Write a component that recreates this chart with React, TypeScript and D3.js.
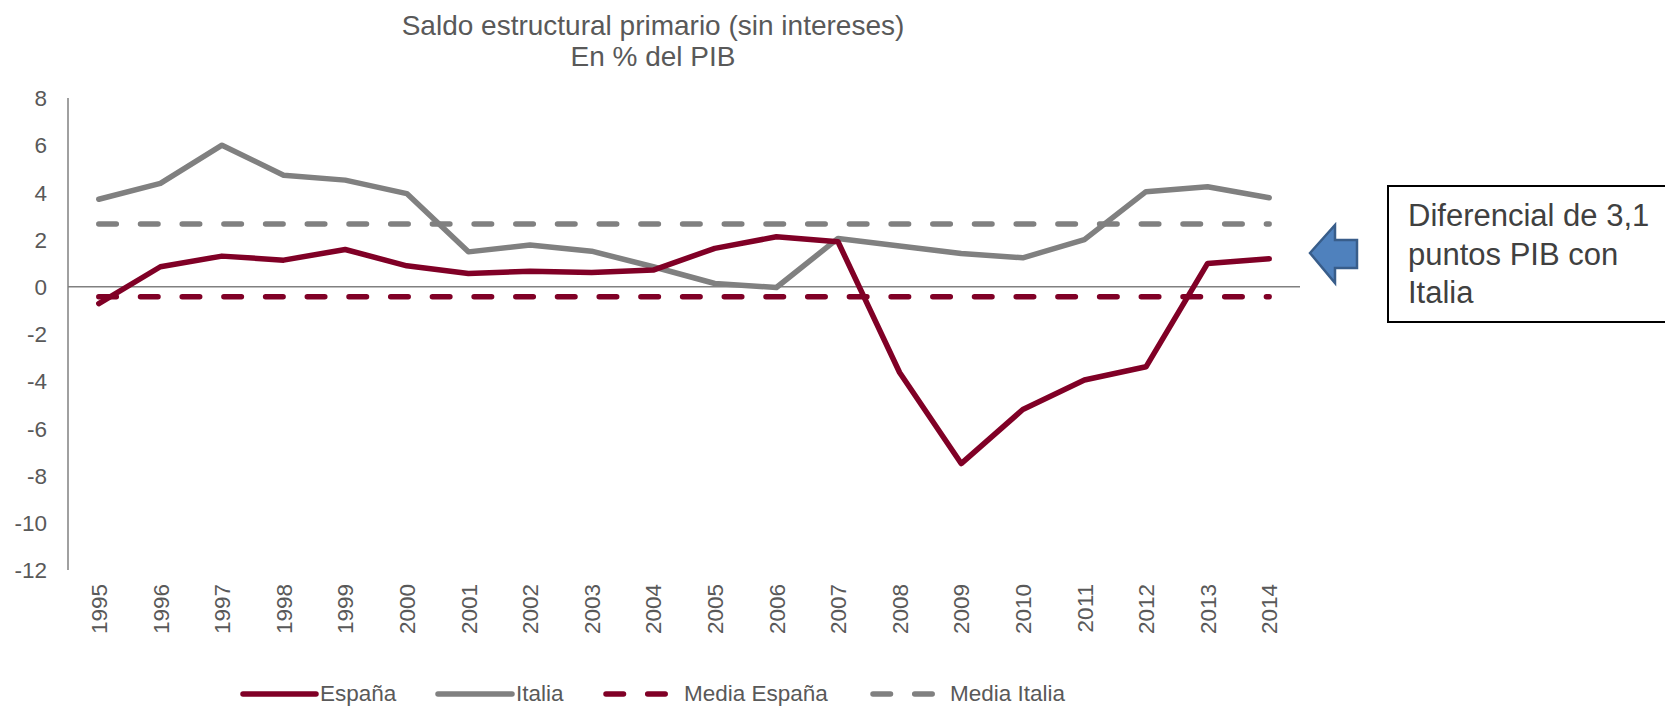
import React from "react";
import * as d3 from "d3";

const years = ["1995","1996","1997","1998","1999","2000","2001","2002","2003","2004","2005","2006","2007","2008","2009","2010","2011","2012","2013","2014"];
const espana = [-0.71,0.85,1.3,1.13,1.58,0.89,0.56,0.66,0.61,0.71,1.63,2.12,1.91,-3.63,-7.49,-5.2,-3.95,-3.39,0.99,1.19];
const italia = [3.71,4.38,6.0,4.73,4.52,3.95,1.48,1.77,1.51,0.85,0.14,-0.03,2.05,1.73,1.41,1.23,2.0,4.03,4.24,3.77];
const mediaEspana = [-0.42,-0.42,-0.42,-0.42,-0.42,-0.42,-0.42,-0.42,-0.42,-0.42,-0.42,-0.42,-0.42,-0.42,-0.42,-0.42,-0.42,-0.42,-0.42,-0.42];
const mediaItalia = [2.66,2.66,2.66,2.66,2.66,2.66,2.66,2.66,2.66,2.66,2.66,2.66,2.66,2.66,2.66,2.66,2.66,2.66,2.66,2.66];
const yTicks = [8,6,4,2,0,-2,-4,-6,-8,-10,-12];
const titleLines = ["Saldo estructural primario (sin intereses)", "En % del PIB"];
const noteLines = ["Diferencial de 3,1", "puntos PIB con", "Italia"];
const legendItems = [
  { label: "España", color: "#800026", dashed: false, x0: 243, x1: 316, tx: 320 },
  { label: "Italia", color: "#808080", dashed: false, x0: 438, x1: 512, tx: 516 },
  { label: "Media España", color: "#800026", dashed: true, x0: 606, x1: 666, tx: 684 },
  { label: "Media Italia", color: "#808080", dashed: true, x0: 873, x1: 933, tx: 950 },
];

const RED = "#800026";
const GRAY = "#808080";
const FONT = "'Liberation Sans', Arial, sans-serif";
const SW = 5.5;
const DASH = "17.5 24.2";

export default function App() {
  const x = d3.scaleBand<string>().domain(years).range([68, 1300]).padding(0);
  const cx = (i: number) => (x(years[i]) as number) + x.bandwidth() / 2;
  const y = d3.scaleLinear().domain([-12, 8]).range([570, 98]);
  const line = d3.line<number>().x((_, i) => cx(i)).y((d) => y(d));

  return (
    <svg width={1665} height={707} style={{ position: "absolute", left: 0, top: 0, background: "#fff" }} fontFamily={FONT}>
      <rect x={0} y={0} width={1665} height={707} fill="#fff" />
      {titleLines.map((t, i) => (
        <text key={t} x={653} y={35 + i * 31} textAnchor="middle" fontSize={28} fill="#595959">{t}</text>
      ))}
      {/* axes */}
      <line x1={68} x2={68} y1={98} y2={570} stroke={GRAY} strokeWidth={1.5} />
      <line x1={68} x2={1300} y1={y(0)} y2={y(0)} stroke={GRAY} strokeWidth={1.5} />
      {yTicks.map((t) => (
        <text key={t} x={47} y={y(t)} dy="0.36em" textAnchor="end" fontSize={22.5} fill="#595959">{t}</text>
      ))}
      {years.map((yr, i) => (
        <text key={yr} transform={`translate(${cx(i)},584) rotate(-90)`} dy="0.36em" textAnchor="end" fontSize={22.5} fill="#595959">{yr}</text>
      ))}
      {/* series */}
      <path d={line(mediaItalia) || ""} fill="none" stroke={GRAY} strokeWidth={SW} strokeDasharray={DASH} strokeLinecap="round" />
      <path d={line(mediaEspana) || ""} fill="none" stroke={RED} strokeWidth={SW} strokeDasharray={DASH} strokeLinecap="round" />
      <path d={line(italia) || ""} fill="none" stroke={GRAY} strokeWidth={SW} strokeLinejoin="round" strokeLinecap="round" />
      <path d={line(espana) || ""} fill="none" stroke={RED} strokeWidth={SW} strokeLinejoin="round" strokeLinecap="round" />
      {/* legend */}
      {legendItems.map((it) => (
        <g key={it.label}>
          <line x1={it.x0} x2={it.x1} y1={694} y2={694} stroke={it.color} strokeWidth={SW} strokeLinecap="round" strokeDasharray={it.dashed ? DASH : undefined} />
          <text x={it.tx} y={701} fontSize={22.5} fill="#595959">{it.label}</text>
        </g>
      ))}
      {/* arrow */}
      <polygon points="1310,253 1335,225 1335,240 1357,240 1357,268 1335,268 1335,283" fill="#4F81BD" stroke="#385D8A" strokeWidth={2.5} strokeLinejoin="miter" />
      {/* annotation box */}
      <rect x={1388} y={186} width={300} height={136} fill="#fff" stroke="#000" strokeWidth={2} />
      {noteLines.map((t, i) => (
        <text key={t} x={1408} y={226 + i * 38.5} fontSize={31} fill="#404040">{t}</text>
      ))}
    </svg>
  );
}
